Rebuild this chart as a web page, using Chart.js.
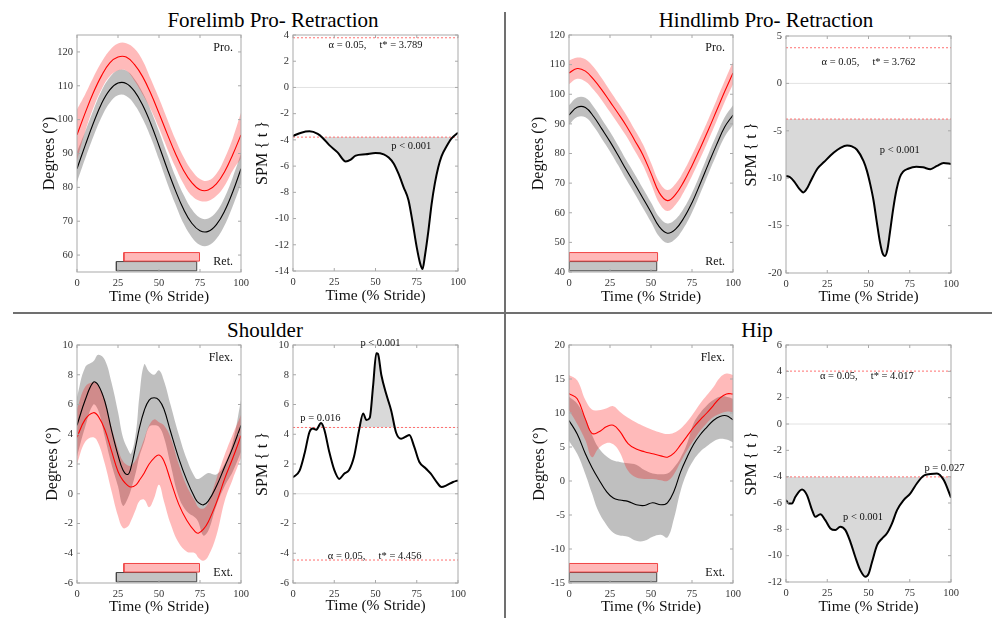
<!DOCTYPE html>
<html>
<head>
<meta charset="utf-8">
<script src="https://cdn.jsdelivr.net/npm/chart.js@4.4.1/dist/chart.umd.min.js"></script>
<style>
html, body { margin: 0; padding: 0; background: #fff; }
#page { position: relative; width: 992px; height: 618px; overflow: hidden; font-family: 'Liberation Serif', 'Times New Roman', serif; }
canvas { position: absolute; }
.ttl { position: absolute; font-size: 21px; line-height: 1; transform: translateX(-50%); white-space: nowrap; color: #000; }
.sep { position: absolute; background: #707070; }
</style>
</head>
<body>
<div id="page">
  <div class="ttl" style="left:273px;top:10px">Forelimb Pro- Retraction</div>
  <div class="ttl" style="left:766px;top:10px">Hindlimb Pro- Retraction</div>
  <div class="ttl" style="left:265px;top:320px">Shoulder</div>
  <div class="ttl" style="left:757px;top:320px">Hip</div>
  <div class="sep" style="left:504px;top:12px;width:2px;height:606px"></div>
  <div class="sep" style="left:13px;top:312px;width:979px;height:2px"></div>
</div>
<script>
// x ticks (% stride)
const strideTicks = [0, 25, 50, 75, 100];

// ---- forelimb pro/retraction angle ----
const stride5 = [0, 5, 10, 15, 20, 25, 30, 35, 40, 45, 50, 55, 60, 65, 70, 75, 80, 85, 90, 95, 100];
const foreRed     = [95.5, 102, 108, 113, 116.8, 118.5, 118.5, 116.3, 112.7, 107.7, 101.9, 95.8, 90, 85, 81.4, 79.3, 79.2, 81, 84.6, 89.7, 95.5];
const foreRedUp   = [103, 107.5, 112.5, 117, 120.5, 122.5, 122.6, 121, 117.5, 112, 106.3, 100.2, 94.2, 89, 85, 82.5, 82, 84, 88.5, 94.5, 102];
const foreRedLo   = [88, 96.5, 103.5, 109, 112.8, 114.5, 114.5, 111.5, 107.5, 103, 97.5, 91.5, 86, 81, 77.5, 76, 76, 77.5, 80.5, 85, 88.5];
const foreBlack   = [85.5, 92.4, 99, 104.8, 108.8, 110.8, 110.7, 108.4, 104.3, 98.8, 92.3, 85.5, 79.1, 73.5, 69.4, 67.2, 67, 69, 73, 78.7, 85.5];
const foreBlackUp = [90.5, 96.5, 102.8, 108.5, 112.5, 114.6, 114.5, 112, 108, 102.8, 96.5, 89.8, 83.3, 77.8, 73.5, 71, 70.8, 72.8, 77, 83, 90];
const foreBlackLo = [81.5, 88.5, 95, 100.8, 105, 107.2, 107, 104.5, 100.3, 94.8, 88.2, 81.3, 75, 69.3, 65.3, 63, 62.8, 64.8, 68.8, 74.5, 81];
const foreStanceRed = [28.6, 74.7];
const foreStanceGray = [24, 73];
const foreAngleTicks = [60, 70, 80, 90, 100, 110, 120];

// ---- forelimb SPM ----
const foreSpmX = [0, 5, 10, 15, 18, 22, 27, 32, 35, 38, 44, 50, 55, 58, 61, 64, 67, 70, 72.5, 75, 77, 78.5, 80, 82, 84, 86, 88, 90, 93, 96, 100];
const foreSpmT = [-3.7, -3.45, -3.35, -3.55, -3.85, -4.4, -4.95, -5.65, -5.5, -5.2, -5.1, -5.0, -5.1, -5.35, -5.8, -6.6, -7.6, -8.6, -10.3, -12.2, -13.4, -13.85, -12.8, -11.0, -8.9, -7.3, -6.1, -5.25, -4.5, -3.9, -3.45];
const foreSpmTicks = [-14, -12, -10, -8, -6, -4, -2, 0, 2, 4];
const foreThr = 3.789;

// ---- hindlimb pro/retraction angle ----
const hindRed     = [107.2, 108.7, 107.8, 105, 101.5, 97.5, 93.5, 89.3, 84.5, 79.6, 73.3, 66.8, 64.1, 66.2, 70.5, 75.9, 81.8, 88, 94.5, 101, 107.2];
const hindRedUp   = [111.4, 112.4, 111.8, 109.2, 105.4, 101.2, 97.1, 92.9, 88.1, 83.2, 76.9, 70.4, 67.7, 69.8, 74.1, 79.5, 85.4, 91.6, 98.1, 104.6, 111];
const hindRedLo   = [103.4, 105.2, 104.3, 101.5, 98, 94, 90, 85.8, 81, 76.1, 69.8, 63.3, 60.6, 62.7, 67, 72.4, 78.3, 84.5, 91, 97.5, 103.4];
const hindBlack   = [93, 95.6, 95.5, 92.5, 88.3, 84, 79.3, 74.4, 69.8, 65, 60.2, 55.3, 53.1, 54.5, 58.2, 63.4, 69.8, 76.5, 83, 89, 93];
const hindBlackUp = [96.3, 98.9, 98.8, 95.8, 91.6, 87.3, 82.6, 77.7, 73.1, 68.3, 63.5, 58.6, 56.4, 57.8, 61.5, 66.7, 73.1, 79.8, 86.3, 92.3, 96.3];
const hindBlackLo = [89.7, 92.3, 92.2, 89.2, 85, 80.7, 76, 71.1, 66.5, 61.7, 56.9, 52, 49.8, 51.2, 54.9, 60.1, 66.5, 73.2, 79.7, 85.7, 89.7];
const hindStanceRed = [0, 54];
const hindStanceGray = [0, 53.5];
const hindAngleTicks = [40, 50, 60, 70, 80, 90, 100, 110, 120];

// ---- hindlimb SPM ----
const hindSpmX = [0, 2.5, 5, 8, 10.5, 13, 15, 19, 23, 29, 33, 37, 40, 43, 47, 49, 51, 53, 55, 57, 58.5, 60, 61.5, 63, 65, 67, 69, 71, 74, 79, 83, 87.5, 91.5, 95.5, 100];
const hindSpmT = [-9.75, -9.9, -10.35, -11.1, -11.5, -11.0, -10.3, -9.0, -8.3, -7.3, -6.8, -6.55, -6.65, -7.0, -8.2, -9.2, -10.6, -12.3, -14.6, -16.8, -17.9, -18.2, -17.5, -15.7, -13.2, -11.2, -9.9, -9.3, -9.0, -8.8, -8.85, -9.05, -8.7, -8.4, -8.5];
const hindSpmTicks = [-20, -15, -10, -5, 0, 5];
const hindThr = 3.762;

// ---- shoulder angle ----
const shoulderX   = [0, 5, 10, 13, 17, 21, 25, 28, 31, 33, 36, 38, 41, 44, 47, 50, 53, 57, 62, 67, 72, 74, 77, 80, 85, 90, 95, 100];
const shBlack     = [4.6, 6.3, 7.5, 7.3, 6.2, 4.3, 2.6, 1.6, 1.3, 1.8, 3.3, 4.4, 5.6, 6.3, 6.45, 6.3, 5.7, 4.2, 2.4, 0.9, -0.3, -0.6, -0.75, -0.5, 0.5, 1.8, 3.1, 4.6];
const shBlackUp   = [6.5, 8.5, 8.9, 9.35, 9.0, 7.5, 5.5, 3.8, 3.0, 2.7, 4.2, 6.5, 8.7, 8.2, 8.0, 8.3, 7.6, 6.0, 4.0, 2.3, 1.1, 1.0, 1.2, 1.4, 1.3, 2.0, 3.5, 6.3];
const shBlackLo   = [2.5, 4.5, 6.0, 5.6, 3.8, 2.0, 0.5, -0.8, -0.3, 0.3, 1.5, 2.5, 3.5, 4.5, 4.6, 4.5, 3.8, 2.0, -0.2, -1.2, -1.6, -1.9, -2.8, -2.5, -0.8, 0.5, 1.5, 2.8];
const shRed       = [3.8, 5.0, 5.45, 5.2, 4.3, 2.9, 1.5, 0.9, 0.55, 0.45, 0.6, 0.9, 1.4, 2.0, 2.4, 2.6, 2.2, 0.9, -0.7, -1.8, -2.55, -2.65, -2.4, -1.9, -0.6, 1.0, 2.4, 3.9];
const shRedUp     = [5.7, 7.2, 7.5, 7.3, 6.3, 4.5, 3.0, 2.2, 1.9, 1.9, 2.3, 2.8, 3.7, 4.6, 5.0, 4.8, 4.6, 3.8, 2.0, 0.5, -0.5, -0.9, -1.0, -0.6, 1.0, 2.6, 4.0, 5.3];
const shRedLo     = [2.0, 3.5, 3.8, 3.4, 2.0, 0.2, -1.5, -2.3, -2.2, -1.8, -1.0, -0.5, -0.4, -0.9, -0.3, 0.6, -0.5, -2.0, -3.3, -3.9, -4.0, -4.3, -4.5, -4.2, -2.8, -0.5, 1.0, 2.4];
const shAngleTicks = [-6, -4, -2, 0, 2, 4, 6, 8, 10];

// ---- shoulder SPM ----
const shSpmX = [0, 4, 7, 10, 12, 14, 17, 19, 22, 25, 28, 31, 34, 37, 40, 42.5, 44.5, 46.5, 48.5, 50.5, 51.5, 53.5, 56.5, 59.5, 62.5, 65.5, 68.5, 70.5, 73.5, 76.5, 80.5, 83.5, 87, 90, 93, 97, 100];
const shSpmT = [1.1, 1.55, 2.7, 4.15, 4.38, 4.3, 4.75, 4.3, 2.8, 1.6, 1.0, 1.35, 1.6, 2.5, 4.25, 5.4, 4.95, 5.1, 7.2, 9.45, 9.4, 8.0, 6.7, 5.6, 4.1, 3.7, 3.85, 3.95, 3.15, 2.15, 1.7, 1.35, 0.8, 0.45, 0.56, 0.79, 0.9];
const shSpmTicks = [-6, -4, -2, 0, 2, 4, 6, 8, 10];
const shThr = 4.456;

// ---- hip angle ----
const hipX        = [0, 5, 10, 14, 18, 23, 27, 31, 36, 41, 46, 51, 56, 60, 64, 68, 72, 76, 80, 84, 88, 92, 96, 100];
const hipRed      = [12.85, 12.1, 9.1, 7.0, 7.2, 8.0, 8.2, 7.3, 5.5, 4.7, 4.3, 4.0, 3.7, 3.5, 4.1, 5.3, 6.6, 7.9, 9.0, 10.0, 11.1, 12.2, 12.8, 12.8];
const hipRedUp    = [15.6, 14.8, 11.9, 10.5, 10.4, 10.7, 11.0, 10.2, 9.3, 8.6, 8.0, 7.5, 7.1, 6.9, 7.1, 7.7, 8.7, 10.0, 11.4, 12.6, 13.8, 15.2, 15.8, 15.6];
const hipRedLo    = [10.4, 8.4, 6.0, 3.5, 4.8, 5.6, 5.4, 4.2, 1.5, 0.5, 0.3, 0.3, 0.1, 0.0, 1.0, 2.8, 4.5, 6.0, 7.4, 8.5, 9.4, 9.9, 10.2, 10.1];
const hipBlack    = [8.9, 6.9, 4.0, 2.0, 0.3, -1.6, -2.5, -2.8, -3.0, -3.5, -3.6, -3.2, -3.5, -3.2, -1.5, 1.3, 3.5, 5.4, 6.8, 7.9, 8.9, 9.5, 9.6, 9.0];
const hipBlackUp  = [12.4, 11.4, 9.2, 6.8, 4.9, 3.6, 3.0, 2.8, 2.6, 2.4, 1.6, 1.1, 1.0, 1.1, 2.0, 3.4, 5.5, 8.5, 10.0, 11.1, 11.9, 12.4, 12.4, 12.1];
const hipBlackLo  = [5.9, 4.0, 1.0, -1.8, -4.5, -6.5, -7.6, -8.0, -8.2, -8.8, -8.8, -8.2, -7.9, -8.3, -5.5, -1.5, 1.3, 3.1, 4.3, 5.1, 5.8, 6.2, 6.1, 5.7];
const hipAngleTicks = [-15, -10, -5, 0, 5, 10, 15, 20];

// ---- hip SPM ----
const hipSpmX = [0, 1.6, 3.6, 5.7, 9.7, 12.7, 15.8, 17.8, 20.8, 23.8, 26.9, 29.9, 32.9, 36, 39, 42, 45, 48.1, 50.1, 52.1, 55.2, 58.2, 61.2, 64.2, 67.3, 71.3, 75.4, 79.4, 83.4, 87.5, 91.5, 95.6, 100];
const hipSpmT = [-5.78, -6.03, -6.03, -5.53, -4.97, -5.4, -6.54, -7.05, -6.85, -7.3, -7.94, -8.06, -7.8, -8.06, -8.95, -10.1, -11.1, -11.6, -11.36, -10.5, -9.2, -8.7, -8.3, -7.56, -6.54, -5.78, -5.27, -4.5, -3.93, -3.8, -3.75, -4.26, -5.6];
const hipSpmTicks = [-12, -10, -8, -6, -4, -2, 0, 2, 4, 6];
const hipThr = 4.017;

const FONT = "'Liberation Serif', 'Times New Roman', serif";
Chart.defaults.font.family = FONT;

function xy(xs, ys) {
    return xs.map((x, i) => ({ x: x, y: ys[i] }));
}

function flat(v) {
    return [{ x: 0, y: v }, { x: 100, y: v }];
}

function rect(x0, x1, y0, y1) {
    return [{ x: x0, y: y0 }, { x: x1, y: y0 }, { x: x1, y: y1 }, { x: x0, y: y1 }, { x: x0, y: y0 }];
}

// box, inward ticks and text notes
const decor = {
    id: 'decor',
    afterDatasetsDraw(chart, args, opts) {
        const ctx = chart.ctx;
        const a = chart.chartArea;
        const sx = chart.scales.x, sy = chart.scales.y;
        ctx.save();
        ctx.strokeStyle = '#a9a9a9';
        ctx.lineWidth = 1;
        ctx.strokeRect(a.left, a.top, a.right - a.left, a.bottom - a.top);
        ctx.beginPath();
        sx.ticks.forEach(t => {
            const px = sx.getPixelForValue(t.value);
            ctx.moveTo(px, a.bottom); ctx.lineTo(px, a.bottom - 3);
            ctx.moveTo(px, a.top); ctx.lineTo(px, a.top + 3);
        });
        sy.ticks.forEach(t => {
            const py = sy.getPixelForValue(t.value);
            ctx.moveTo(a.left, py); ctx.lineTo(a.left + 3, py);
            ctx.moveTo(a.right, py); ctx.lineTo(a.right - 3, py);
        });
        ctx.stroke();

        ctx.fillStyle = '#111';
        ctx.textBaseline = 'middle';
        (opts.notes || []).forEach(n => {
            ctx.font = (n.size || 10.5) + 'px ' + FONT;
            if (n.corner) {
                ctx.textAlign = 'right';
                const py = n.corner === 'top' ? a.top + 13 : a.bottom - 10;
                ctx.fillText(n.text, a.right - 8, py);
            } else {
                ctx.textAlign = 'center';
                ctx.fillText(n.text, sx.getPixelForValue(n.x), sy.getPixelForValue(n.y));
            }
        });
        ctx.restore();
    }
};
Chart.register(decor);

// smooth curves for the mean/band traces
const smooth = { pointRadius: 0, tension: 0.4, fill: false };

function angleSets(p) {
    const span = p.yMax - p.yMin;
    const lvl = f => p.yMin + f * span;
    const clear = 'rgba(0,0,0,0)';
    return [
        { data: xy(p.x, p.red), borderColor: '#ff0000', borderWidth: 1.1, ...smooth },
        { data: xy(p.x, p.black), borderColor: '#000000', borderWidth: 1.1, ...smooth },
        { data: rect(p.stanceRed[0], p.stanceRed[1], lvl(0.046), lvl(0.082)), borderColor: '#f04545', borderWidth: 1,
          backgroundColor: 'rgba(255,0,0,0.28)', fill: 'shape', tension: 0, pointRadius: 0 },
        { data: rect(p.stanceGray[0], p.stanceGray[1], lvl(0.005), lvl(0.044)), borderColor: '#454545', borderWidth: 1,
          backgroundColor: '#c3c3c3', fill: 'shape', tension: 0, pointRadius: 0 },
        { data: xy(p.x, p.redUp), borderColor: clear, backgroundColor: 'rgba(255,0,0,0.27)', ...smooth, fill: '+1' },
        { data: xy(p.x, p.redLo), borderColor: clear, ...smooth },
        { data: xy(p.x, p.blackUp), borderColor: clear, backgroundColor: 'rgba(128,128,128,0.5)', ...smooth, fill: '+1' },
        { data: xy(p.x, p.blackLo), borderColor: clear, ...smooth }
    ];
}

function spmSets(p) {
    const shade = '#d9d9d9', none = 'rgba(0,0,0,0)';
    return [
        { data: xy(p.x, p.t), borderColor: '#000', borderWidth: 2, pointRadius: 0, cubicInterpolationMode: 'monotone',
          fill: { target: { value: p.side * p.thr }, above: p.side > 0 ? shade : none, below: p.side > 0 ? none : shade } },
        { data: flat(p.thr), borderColor: '#ff7070', borderWidth: 1, borderDash: [2, 2], pointRadius: 0, fill: false },
        { data: flat(-p.thr), borderColor: '#ff7070', borderWidth: 1, borderDash: [2, 2], pointRadius: 0, fill: false },
        { data: flat(0), borderColor: '#e2e2e2', borderWidth: 1, pointRadius: 0, fill: false }
    ];
}

function makePanel(p) {
    const x0 = p.yTitleX - 10;
    const y0 = p.T - 32;
    const x1 = Math.min(992, p.R + 34);
    const y1 = p.xTitleY + 10;
    const cv = document.createElement('canvas');
    cv.width = x1 - x0;
    cv.height = y1 - y0;
    cv.style.left = x0 + 'px';
    cv.style.top = y0 + 'px';
    document.getElementById('page').appendChild(cv);

    const tickFont = { size: 10.5 };
    new Chart(cv.getContext('2d'), {
        type: 'line',
        data: { datasets: p.kind === 'angle' ? angleSets(p) : spmSets(p) },
        options: {
            responsive: false,
            devicePixelRatio: 1,
            animation: false,
            events: [],
            layout: { padding: { left: 0, top: p.T - y0, right: x1 - p.R, bottom: 0 } },
            plugins: {
                legend: { display: false },
                tooltip: { enabled: false },
                filler: { drawTime: 'beforeDatasetsDraw' },
                decor: { notes: p.notes }
            },
            scales: {
                x: {
                    type: 'linear', min: 0, max: 100,
                    afterBuildTicks: s => { s.ticks = strideTicks.map(v => ({ value: v })); },
                    afterFit: s => { s.height = y1 - p.B; },
                    grid: { display: false, drawTicks: false },
                    border: { display: false },
                    ticks: { padding: 5, color: '#333', font: tickFont, maxRotation: 0, autoSkip: false },
                    title: { display: true, text: 'Time (% Stride)', color: '#111', padding: 0, font: { size: 15.5, lineHeight: 1.25 } }
                },
                y: {
                    type: 'linear', min: p.yMin, max: p.yMax,
                    afterBuildTicks: s => { s.ticks = p.yTicks.map(v => ({ value: v })); },
                    afterFit: s => { s.width = p.L - x0; },
                    grid: { display: false, drawTicks: false },
                    border: { display: false },
                    ticks: { padding: 4, color: '#333', font: tickFont, autoSkip: false },
                    title: { display: true, text: p.kind === 'angle' ? 'Degrees (°)' : 'SPM { t }', color: '#111', padding: 0,
                             font: { size: 16, lineHeight: 1.25 } }
                }
            }
        }
    });
}

const alphaText = t => 'α = 0.05,     t* = ' + t.toFixed(3);

const panels = [
    { kind: 'angle', L: 77, R: 241, T: 35, B: 272, yTitleX: 50, xTitleY: 297, yMin: 55, yMax: 125, yTicks: foreAngleTicks,
      x: stride5, red: foreRed, redUp: foreRedUp, redLo: foreRedLo, black: foreBlack, blackUp: foreBlackUp, blackLo: foreBlackLo,
      stanceRed: foreStanceRed, stanceGray: foreStanceGray,
      notes: [{ text: 'Pro.', corner: 'top', size: 12 }, { text: 'Ret.', corner: 'bottom', size: 12 }] },
    { kind: 'spm', L: 293, R: 458, T: 35, B: 271, yTitleX: 263, xTitleY: 296, yMin: -14, yMax: 4, yTicks: foreSpmTicks,
      x: foreSpmX, t: foreSpmT, thr: foreThr, side: -1,
      notes: [{ text: alphaText(foreThr), x: 50, y: 3.25 }, { text: 'p < 0.001', x: 71.7, y: -4.5 }] },
    { kind: 'angle', L: 569, R: 733, T: 35, B: 272, yTitleX: 539, xTitleY: 297, yMin: 40, yMax: 120, yTicks: hindAngleTicks,
      x: stride5, red: hindRed, redUp: hindRedUp, redLo: hindRedLo, black: hindBlack, blackUp: hindBlackUp, blackLo: hindBlackLo,
      stanceRed: hindStanceRed, stanceGray: hindStanceGray,
      notes: [{ text: 'Pro.', corner: 'top', size: 12 }, { text: 'Ret.', corner: 'bottom', size: 12 }] },
    { kind: 'spm', L: 786, R: 951, T: 36, B: 273, yTitleX: 752, xTitleY: 297, yMin: -20, yMax: 5, yTicks: hindSpmTicks,
      x: hindSpmX, t: hindSpmT, thr: hindThr, side: -1,
      notes: [{ text: alphaText(hindThr), x: 50, y: 2.2 }, { text: 'p < 0.001', x: 69, y: -7.1 }] },
    { kind: 'angle', L: 77, R: 241, T: 345, B: 583, yTitleX: 53, xTitleY: 607, yMin: -6, yMax: 10, yTicks: shAngleTicks,
      x: shoulderX, red: shRed, redUp: shRedUp, redLo: shRedLo, black: shBlack, blackUp: shBlackUp, blackLo: shBlackLo,
      stanceRed: foreStanceRed, stanceGray: foreStanceGray,
      notes: [{ text: 'Flex.', corner: 'top', size: 12 }, { text: 'Ext.', corner: 'bottom', size: 12 }] },
    { kind: 'spm', L: 293, R: 458, T: 345, B: 583, yTitleX: 263, xTitleY: 606, yMin: -6, yMax: 10, yTicks: shSpmTicks,
      x: shSpmX, t: shSpmT, thr: shThr, side: 1,
      notes: [{ text: 'p < 0.001', x: 53, y: 10.1 }, { text: 'p = 0.016', x: 16.6, y: 5.05 }, { text: alphaText(shThr), x: 49.5, y: -4.2 }] },
    { kind: 'angle', L: 569, R: 733, T: 345, B: 583, yTitleX: 540, xTitleY: 607, yMin: -15, yMax: 20, yTicks: hipAngleTicks,
      x: hipX, red: hipRed, redUp: hipRedUp, redLo: hipRedLo, black: hipBlack, blackUp: hipBlackUp, blackLo: hipBlackLo,
      stanceRed: hindStanceRed, stanceGray: hindStanceGray,
      notes: [{ text: 'Flex.', corner: 'top', size: 12 }, { text: 'Ext.', corner: 'bottom', size: 12 }] },
    { kind: 'spm', L: 786, R: 951, T: 345, B: 582, yTitleX: 752, xTitleY: 607, yMin: -12, yMax: 6, yTicks: hipSpmTicks,
      x: hipSpmX, t: hipSpmT, thr: hipThr, side: -1,
      notes: [{ text: alphaText(hipThr), x: 49, y: 3.65 }, { text: 'p < 0.001', x: 46.7, y: -7.1 }, { text: 'p = 0.027', x: 96, y: -3.37 }] }
];

panels.forEach(makePanel);
</script>
</body>
</html>
